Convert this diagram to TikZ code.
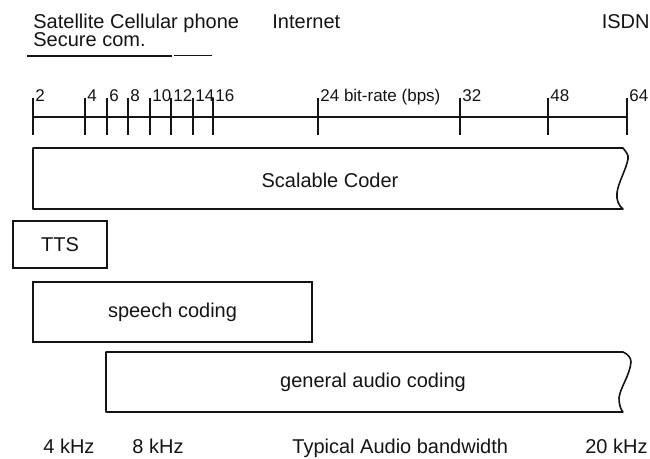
\documentclass[tikz,border=0pt]{standalone}
\usepackage{fontspec}
\setmainfont{Liberation Sans}
\usepackage{tikz}
\usetikzlibrary{positioning}
\definecolor{scanink}{RGB}{20,20,20}
\tikzset{
  lbl/.style={font=\fontsize{10}{12}\selectfont, inner sep=0pt, text=scanink},
  ticklbl/.style={font=\fontsize{8.5}{10}\selectfont, inner sep=0pt,
    anchor=base west, text=scanink},
  codebox/.style={rectangle, draw=scanink, line width=0.8pt, inner sep=0pt,
    font=\fontsize{10}{12}\selectfont, text=scanink},
  outline/.style={draw=scanink, line width=0.8pt, line join=round},
  axisline/.style={draw=scanink, line width=1pt}
}

\begin{document}
\begin{tikzpicture}[x=0.5pt, y=-0.5pt]
  \useasboundingbox (0,0) rectangle (650,459);
  % Application labels
  \node[lbl, anchor=base west] (sat) at (33,29) {Satellite Cellular phone};
  \node[lbl, anchor=base west] (sec) at (33,47) {Secure com.};
  \node[lbl, anchor=base west] (inet) at (272,29) {Internet};
  \node[lbl, anchor=base east] (isdn) at (650,29) {ISDN};
  \draw[outline] (27,56) -- (172,56);
  \draw[outline, line width=0.5pt] (174,56) -- (212,56);
  % Bit-rate axis
  \draw[axisline] (33,117) -- (627,117);
  \foreach \x/\r in {33/2, 85/4, 107/6, 128/8, 150/10, 171/12, 193/14, 213/16,
                     318/{24 bit-rate (bps)}, 460/32, 548/48, 627/64} {
    \draw[axisline] (\x,98) -- (\x,135);
    \node[ticklbl] (t\x) at (\x+2,102) {\r};
  }
  % Scalable coder (open to the right)
  \draw[outline] (33,148) -- (623,148)
    .. controls (626,152) and (629,155) .. (628,159)
    .. controls (626,170) and (618,183) .. (617,193)
    .. controls (616,200) and (619,206) .. (623,209) -- (33,209) -- cycle;
  \node[lbl] (scal) at (330,180) {Scalable Coder};
  % TTS and speech coding
  \node[codebox, minimum width=47pt, minimum height=23.5pt] (tts) at (60,244.5) {TTS};
  \node[codebox, minimum width=139.5pt, minimum height=30pt] (speech) at (172.5,312) {speech coding};
  % General audio coding (open to the right)
  \draw[outline] (106,352) -- (623,352)
    .. controls (628,354) and (631,358) .. (631,362)
    .. controls (630,375) and (620,388) .. (619,398)
    .. controls (619,405) and (621,410) .. (623,412) -- (106,412) -- cycle;
  \node[lbl] (audio) at (373,382) {general audio coding};
  % Audio bandwidth
  \node[lbl, anchor=base west] (bw4) at (43,454) {4 kHz};
  \node[lbl, anchor=base west] (bw8) at (132,454) {8 kHz};
  \node[lbl, anchor=base west] (bwlbl) at (292,454) {Typical Audio bandwidth};
  \node[lbl, anchor=base east] (bw20) at (648,454) {20 kHz};
\end{tikzpicture}
\end{document}
